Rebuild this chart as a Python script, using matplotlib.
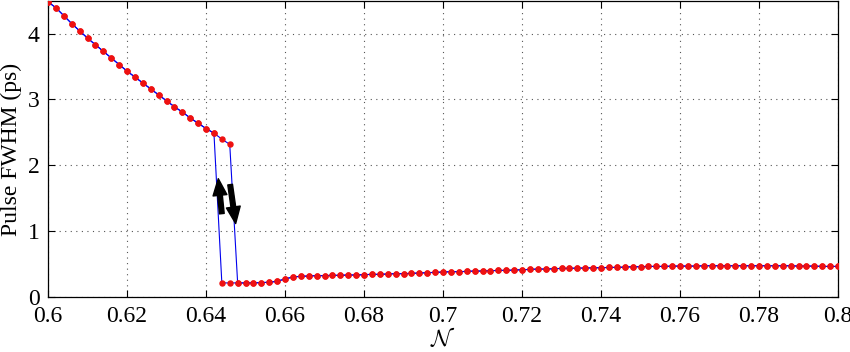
import matplotlib
matplotlib.use('Agg')
import matplotlib.pyplot as plt

plt.rcParams['font.family'] = ['Liberation Serif', 'DejaVu Serif']
plt.rcParams['mathtext.fontset'] = 'cm'

# upper branch (large pulse), N = 0.600 ... 0.646
n_up = [0.600, 0.602, 0.604, 0.606, 0.608, 0.610, 0.612, 0.614, 0.616, 0.618,
        0.620, 0.622, 0.624, 0.626, 0.628, 0.630, 0.632, 0.634, 0.636, 0.638,
        0.640, 0.642, 0.644, 0.646]
fwhm_up = [4.48, 4.39, 4.27, 4.15, 4.04, 3.93, 3.83, 3.73, 3.63, 3.53,
           3.43, 3.34, 3.25, 3.16, 3.07, 2.98, 2.89, 2.81, 2.72, 2.64,
           2.56, 2.49, 2.40, 2.32]

# lower branch (short pulse), N = 0.644 ... 0.800
n_low = [0.644, 0.646, 0.648, 0.650, 0.652, 0.654, 0.656, 0.658, 0.660, 0.662,
         0.664, 0.666, 0.668, 0.670, 0.672, 0.674, 0.676, 0.678, 0.680, 0.682,
         0.684, 0.686, 0.688, 0.690, 0.692, 0.694, 0.696, 0.698, 0.700, 0.702,
         0.704, 0.706, 0.708, 0.710, 0.712, 0.714, 0.716, 0.718, 0.720, 0.722,
         0.724, 0.726, 0.728, 0.730, 0.732, 0.734, 0.736, 0.738, 0.740, 0.742,
         0.744, 0.746, 0.748, 0.750, 0.752, 0.754, 0.756, 0.758, 0.760, 0.762,
         0.764, 0.766, 0.768, 0.770, 0.772, 0.774, 0.776, 0.778, 0.780, 0.782,
         0.784, 0.786, 0.788, 0.790, 0.792, 0.794, 0.796, 0.798, 0.800]
fwhm_low = [0.22, 0.22, 0.22, 0.22, 0.22, 0.225, 0.23, 0.245, 0.28, 0.31,
            0.32, 0.325, 0.33, 0.33, 0.335, 0.335, 0.34, 0.34, 0.345, 0.35,
            0.35, 0.355, 0.36, 0.36, 0.365, 0.37, 0.375, 0.38, 0.385, 0.39,
            0.39, 0.395, 0.40, 0.40, 0.405, 0.41, 0.41, 0.415, 0.42, 0.425,
            0.43, 0.43, 0.435, 0.44, 0.44, 0.445, 0.445, 0.45, 0.45, 0.455,
            0.455, 0.46, 0.465, 0.465, 0.47, 0.47, 0.47, 0.475, 0.475, 0.475,
            0.475, 0.48, 0.48, 0.48, 0.48, 0.48, 0.48, 0.48, 0.48, 0.48,
            0.48, 0.48, 0.48, 0.475, 0.475, 0.475, 0.47, 0.47, 0.47]

xticks = [0.6, 0.62, 0.64, 0.66, 0.68, 0.7, 0.72, 0.74, 0.76, 0.78, 0.8]
xticklabels = ['0.6', '0.62', '0.64', '0.66', '0.68', '0.7', '0.72', '0.74', '0.76', '0.78', '0.8']
yticks = [0, 1, 2, 3, 4]

# arrows (tail, tip) marking sweep directions
arrow_up = ((0.6440, 1.27), (0.6431, 1.80))
arrow_down = ((0.6461, 1.71), (0.6475, 1.12))

fig = plt.figure(figsize=(8.5, 3.52), dpi=100)
ax = fig.add_axes([0.0565, 0.155, 0.9295, 0.8435])

# forward sweep: upper branch, then jump down to lower
fwd_x = n_up + n_low[2:]
fwd_y = fwhm_up + fwhm_low[2:]
# backward sweep: lower branch, then jump up to upper
bwd_x = n_low[::-1] + n_up[:-2][::-1]
bwd_y = fwhm_low[::-1] + fwhm_up[:-2][::-1]

for xs, ys in [(fwd_x, fwd_y), (bwd_x, bwd_y)]:
    ax.plot(xs, ys, '-', color='#0000ee', lw=0.8, marker='o', ms=3.6,
            mfc='#ee1111', mec='#ee1111', zorder=3)

for tail, tip in [arrow_up, arrow_down]:
    ax.annotate('', xy=tip, xytext=tail,
                arrowprops=dict(facecolor='black', edgecolor='black', width=3.4,
                                headwidth=10, headlength=12, shrink=0), zorder=4)

ax.set_xlim(0.6, 0.8)
ax.set_ylim(0, 4.5)
ax.set_xticks(xticks)
ax.set_xticklabels(xticklabels)
ax.set_yticks(yticks)
ax.grid(True, linestyle=(0, (1, 4)), color='#555555', lw=0.8)
ax.tick_params(direction='in', top=True, right=True, length=5, labelsize=17, pad=6)
for s in ax.spines.values():
    s.set_linewidth(0.9)

ax.set_xlabel(r'$\mathcal{N}$', fontsize=17, labelpad=0)
ax.set_ylabel('Pulse FWHM (ps)', fontsize=17, labelpad=4)

fig.savefig('out.png', dpi=100)
